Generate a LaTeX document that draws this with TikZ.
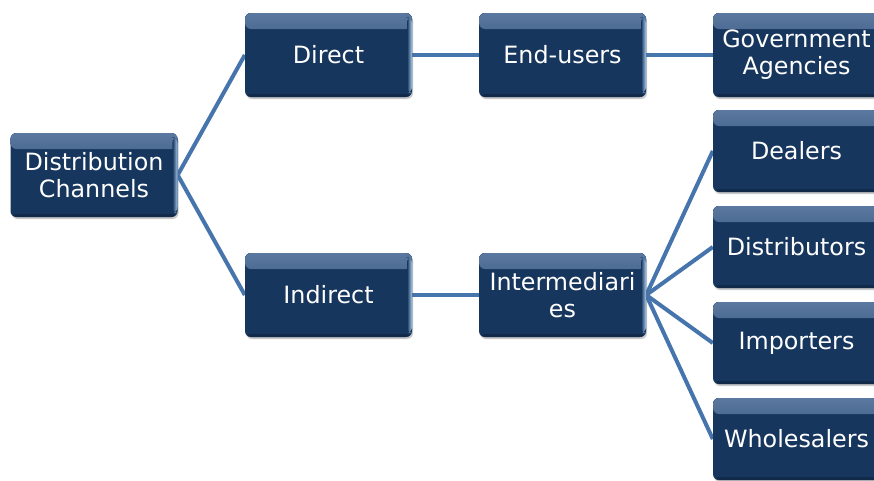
\documentclass[tikz,border=0pt]{standalone}
\usepackage{fontspec}
\setmainfont{DejaVu Sans}
\usetikzlibrary{backgrounds,shadows}
\definecolor{navy}{RGB}{23,54,93}
\definecolor{bevel}{RGB}{90,120,160}
\definecolor{hilite}{RGB}{170,205,240}
\definecolor{link}{RGB}{70,116,172}
\tikzset{
  box/.style={rounded corners=6pt, fill=navy, minimum width=167pt, minimum height=84pt,
    inner sep=0pt, text=white, align=center,
    font=\fontsize{23.8}{27}\selectfont,
    drop shadow={shadow xshift=1pt, shadow yshift=-2pt, opacity=0.35, fill=black!60},
    path picture={
      \fill[top color=bevel, bottom color=navy]
        (path picture bounding box.north west) rectangle ([yshift=-16pt]path picture bounding box.north east);
      \fill[left color=navy, right color=hilite]
        ([xshift=-5pt,yshift=-4pt]path picture bounding box.north east) rectangle ([yshift=4pt]path picture bounding box.south east);
      \fill[navy!60!black, opacity=0.5]
        ([yshift=3pt]path picture bounding box.south west) rectangle (path picture bounding box.south east);
    }},
  sbox/.style={box, minimum height=82pt},
  link/.style={draw=link, line width=4pt}
}
\begin{document}
\begin{tikzpicture}[x=1pt,y=1pt]
\useasboundingbox (0,0) rectangle (874,-480);
\clip (0,0) rectangle (874,-480);
\node[box] (dc) at (94,-175) {Distribution\\Channels};
\node[box] (direct) at (328.5,-55) {Direct};
\node[box] (end) at (562.5,-55) {End-users};
\node[box] (gov) at (796.5,-55) {Government\\Agencies};
\node[box] (indirect) at (328.5,-295) {Indirect};
\node[box] (inter) at (562.5,-295) {Intermediari\\es};
\node[sbox] (deal) at (796.5,-151) {Dealers};
\node[sbox] (distr) at (796.5,-247) {Distributors};
\node[sbox] (imp) at (796.5,-343) {Importers};
\node[sbox] (whole) at (796.5,-439) {Wholesalers};
\begin{scope}[on background layer]
\fill[white] (0,0) rectangle (874,-480);
\draw[link] (dc.east) -- (direct.west);
\draw[link] (dc.east) -- (indirect.west);
\draw[link] (direct.east) -- (end.west);
\draw[link] (end.east) -- (gov.west);
\draw[link] (indirect.east) -- (inter.west);
\draw[link] (inter.east) -- (deal.west);
\draw[link] (inter.east) -- (distr.west);
\draw[link] (inter.east) -- (imp.west);
\draw[link] (inter.east) -- (whole.west);
\end{scope}
\end{tikzpicture}
\end{document}
